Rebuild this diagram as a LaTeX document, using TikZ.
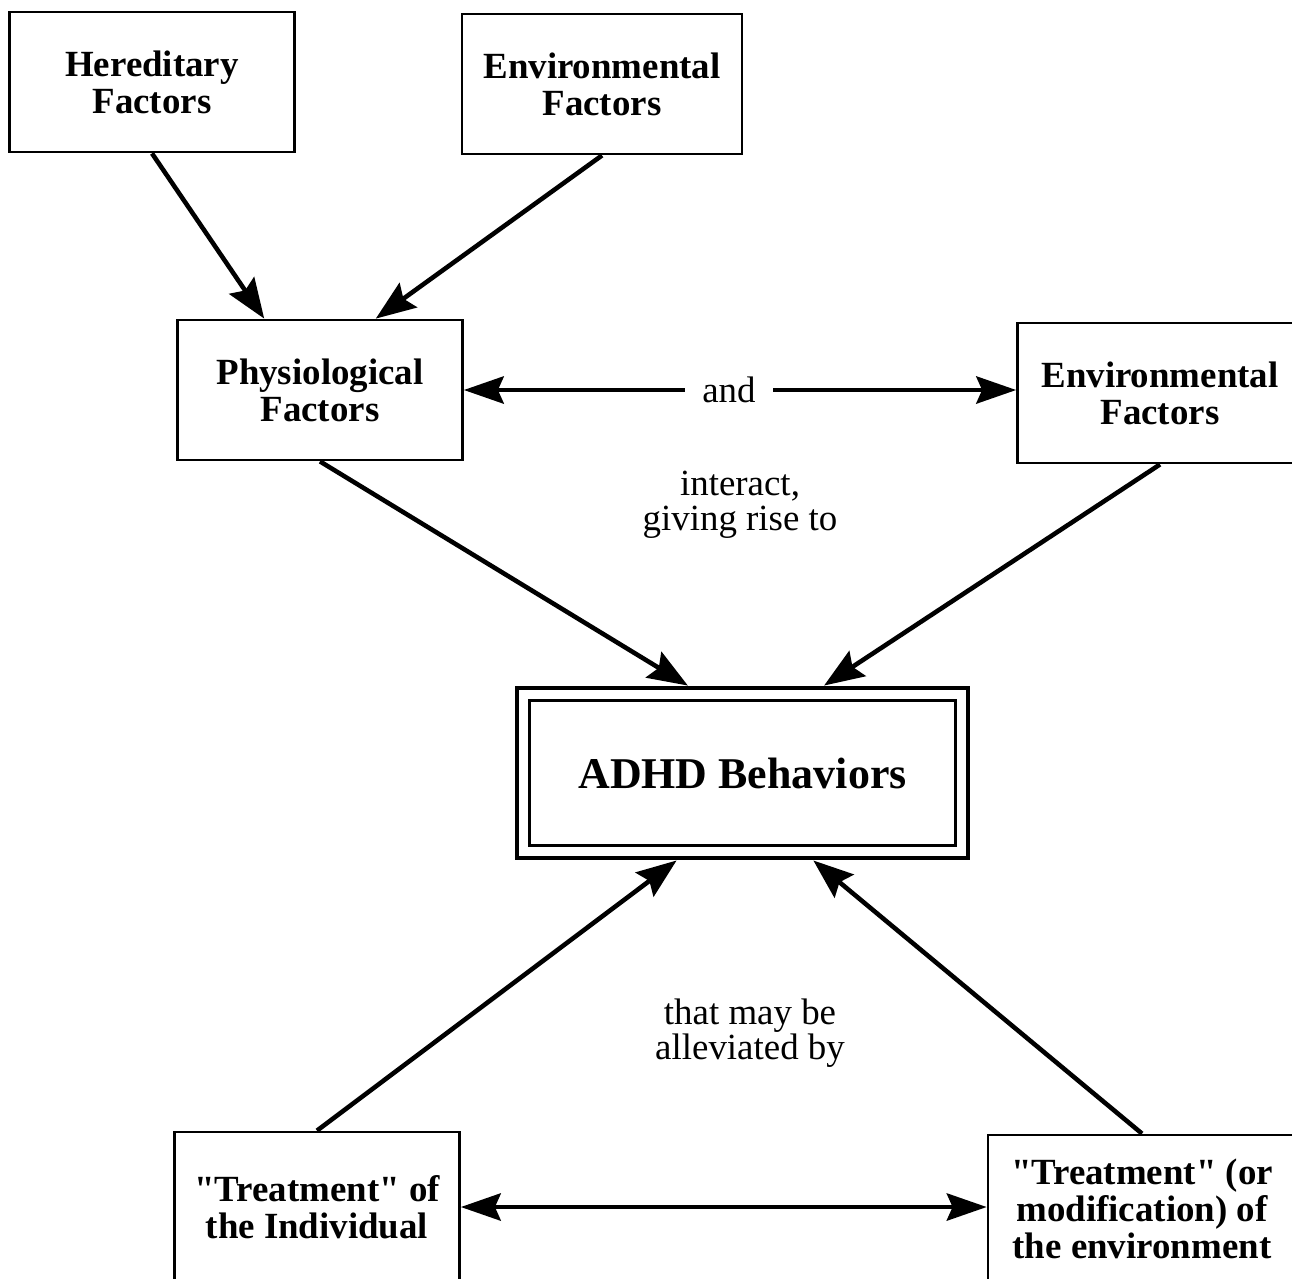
\documentclass[tikz,border=0pt]{standalone}
\usepackage{fontspec}
\setmainfont{Liberation Serif}[Ligatures=TeXOff]
\usetikzlibrary{arrows.meta}

\begin{document}
\begin{tikzpicture}[
    box/.style={draw, line width=1.6pt, inner sep=0pt, align=center,
      minimum width=5.7cm, minimum height=2.8cm,
      font=\bfseries\fontsize{21}{21}\selectfont},
    lbl/.style={align=center, font=\fontsize{21}{20}\selectfont},
    arr/.style={line width=2.6pt, -{Stealth[length=0.8cm,width=0.6cm,inset=0.12cm]}},
    twoarr/.style={line width=1.8pt,
      {Stealth[length=0.8cm,width=0.55cm,inset=0.12cm]}-{Stealth[length=0.8cm,width=0.55cm,inset=0.12cm]}}
  ]
  \useasboundingbox (0,0) rectangle (25.84,-25.56);
  \draw
    (3.04,-1.64) node[box] (her){Hereditary\\Factors}
    (12.04,-1.68) node[box, minimum width=5.6cm] (envtop){Environmental\\Factors}
    (6.40,-7.80) node[box] (phys){Physiological\\Factors}
    (23.20,-7.86) node[box] (envr){Environmental\\Factors}
    (14.85,-15.46) node[box, line width=2.8pt, minimum width=9.02cm, minimum height=3.4cm,
      font=\bfseries\fontsize{25}{25}\selectfont] (adhd){ADHD Behaviors}
    (6.34,-24.14) node[box, minimum height=3.0cm] (treatind){"Treatment" of\\the Individual}
    (22.84,-24.17) node[box, minimum width=6.16cm, minimum height=2.94cm] (treatenv){"Treatment" (or\\modification) of\\the environment};
  % inner frame of the central box
  \draw[line width=1.5pt] ([shift={(0.3,-0.3)}]adhd.north west) rectangle ([shift={(-0.3,0.3)}]adhd.south east);
  \node[lbl] (interact) at (14.80,-10.10) {interact,\\giving rise to};
  \node[lbl] (alleviate) at (15.00,-20.66) {that may be\\alleviated by};
  \begin{scope}[arr]
    \draw (her.south) to (phys.128);
    \draw (envtop.south) to (phys.52);
    \draw (phys.south) to (adhd.122);
    \draw (envr.south) to (adhd.47);
    \draw (treatind.north) to (adhd.233);
    \draw (treatenv.north) to (adhd.309);
  \end{scope}
  \draw[twoarr] (phys.east) -- node[lbl, pos=0.48, fill=white, inner xsep=0.35cm] (and){and} (phys.east -| envr.west);
  \draw[twoarr] (treatind.east) -- (treatind.east -| treatenv.west);
\end{tikzpicture}
\end{document}
